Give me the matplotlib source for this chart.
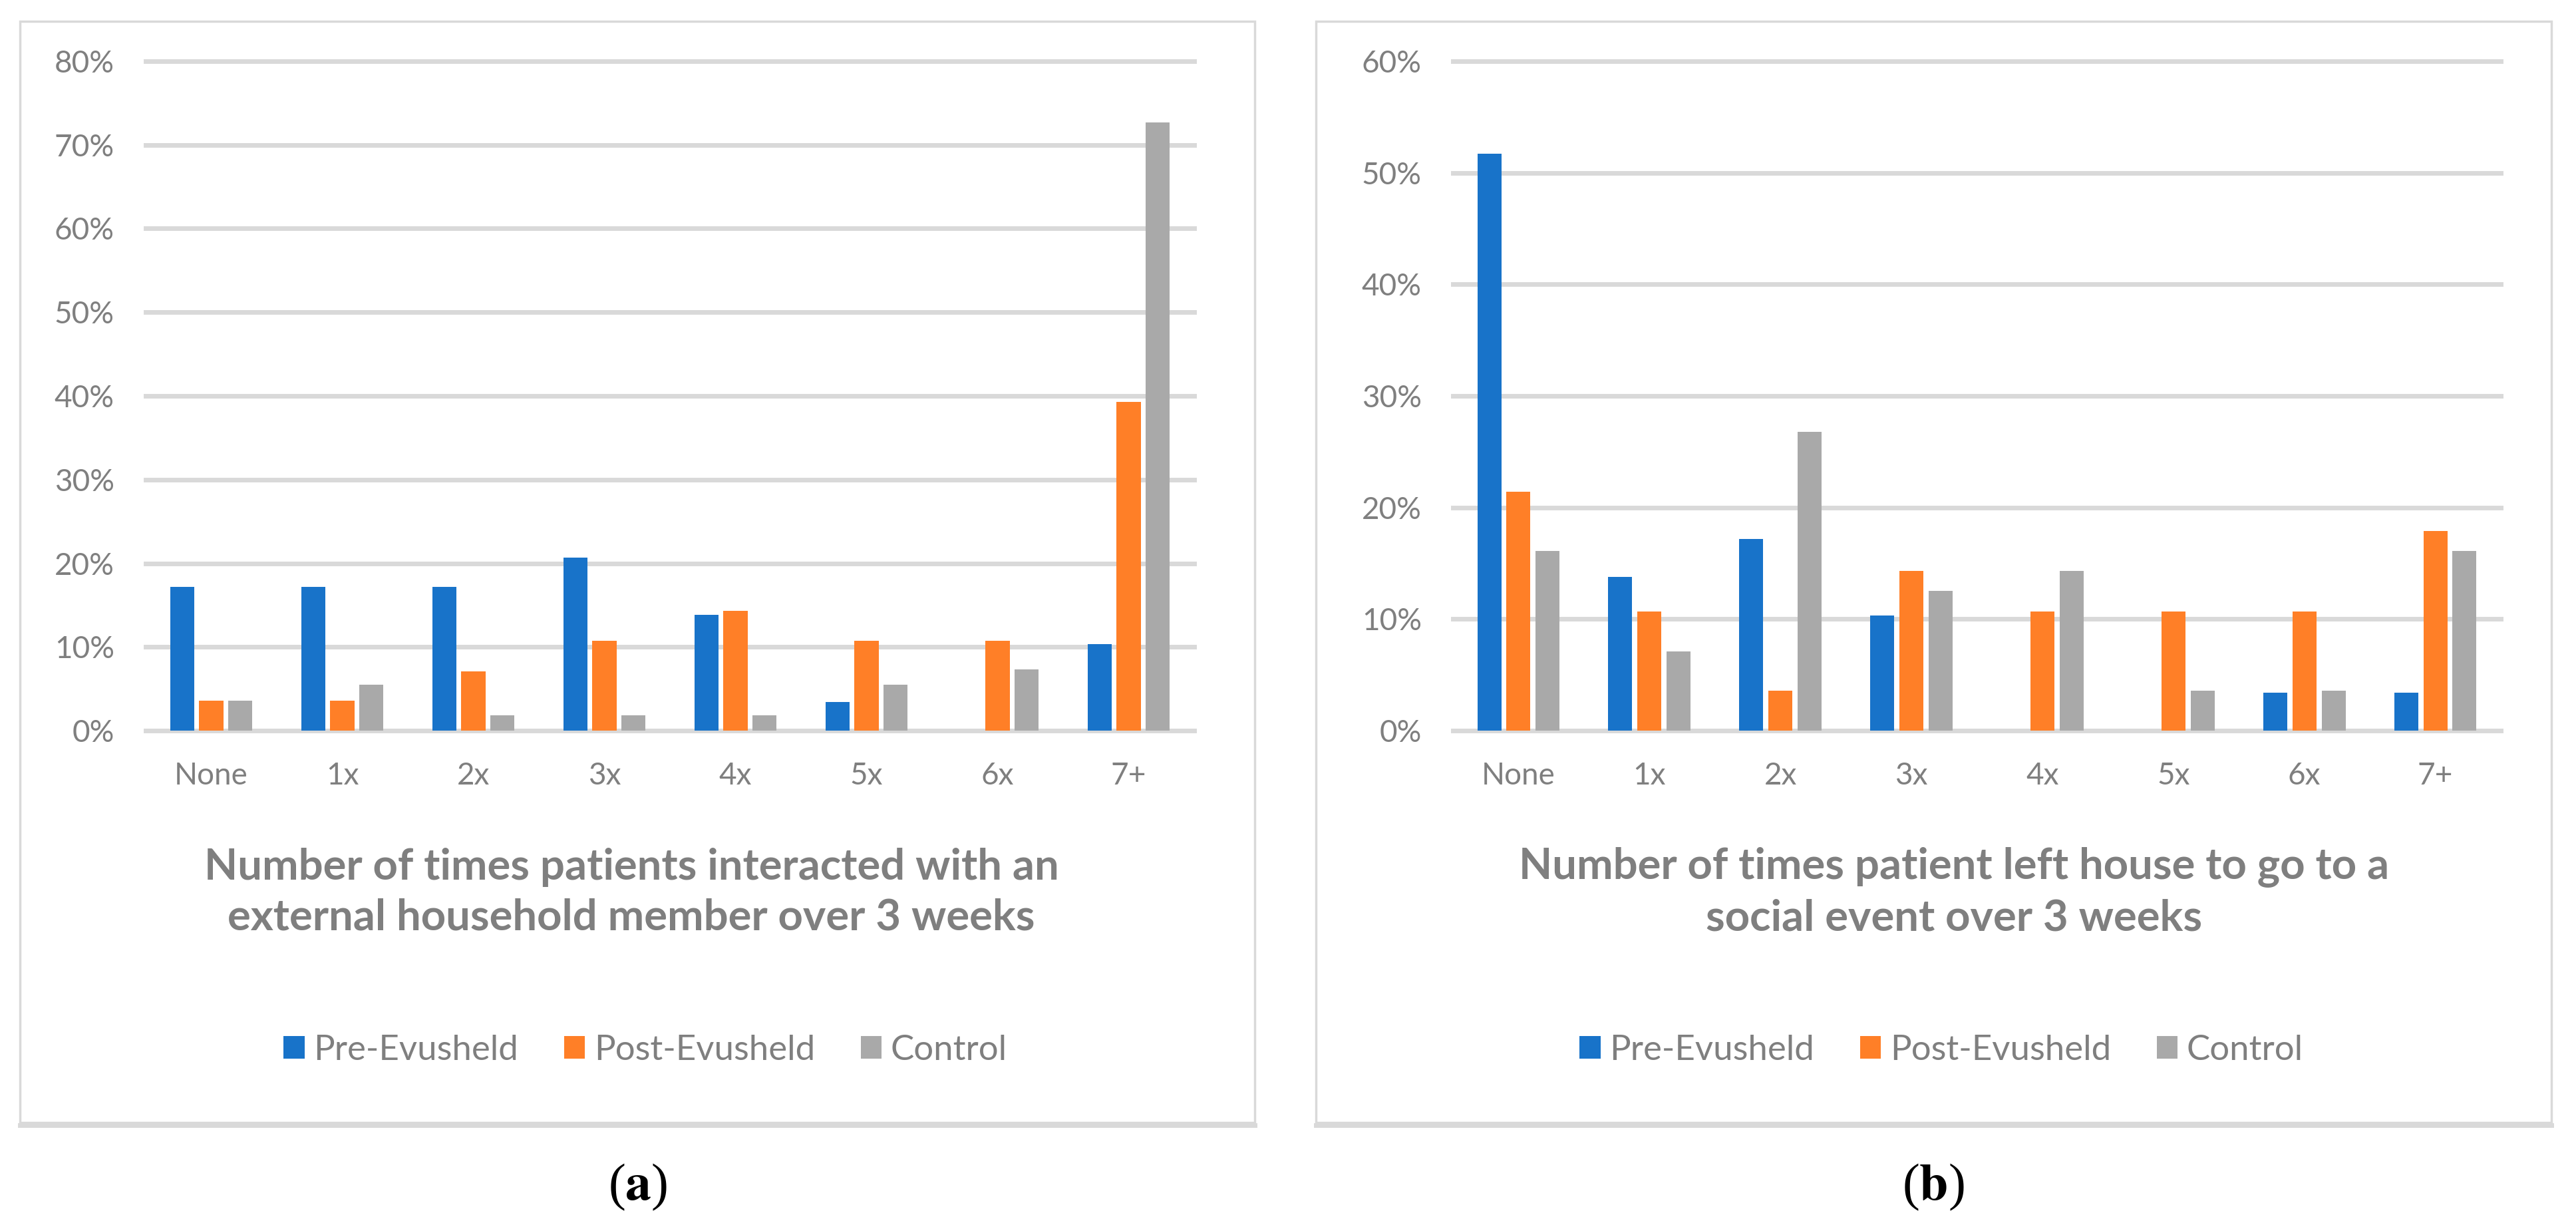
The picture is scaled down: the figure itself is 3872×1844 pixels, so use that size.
import numpy as np
import matplotlib
matplotlib.use('Agg')
from matplotlib import pyplot as plt
from matplotlib.patches import Patch, Rectangle
from matplotlib.lines import Line2D

plt.rcParams['font.family'] = ['Lato', 'DejaVu Sans']
plt.rcParams['mathtext.fontset'] = 'stix'

categories = ['None', '1x', '2x', '3x', '4x', '5x', '6x', '7+']
series_names = ['Pre-Evusheld', 'Post-Evusheld', 'Control']

# panel (a): interactions with an external household member
a_pre = [17.2, 17.2, 17.2, 20.7, 13.8, 3.4, 0.0, 10.3]
a_post = [3.6, 3.6, 7.1, 10.7, 14.3, 10.7, 10.7, 39.3]
a_control = [3.6, 5.5, 1.8, 1.8, 1.8, 5.5, 7.3, 72.7]
a_ticks = [0, 10, 20, 30, 40, 50, 60, 70, 80]
a_title = 'Number of times patients interacted with an\nexternal household member over 3 weeks'

# panel (b): leaving house for a social event
b_pre = [51.7, 13.8, 17.2, 10.3, 0.0, 0.0, 3.4, 3.4]
b_post = [21.4, 10.7, 3.6, 14.3, 10.7, 10.7, 10.7, 17.9]
b_control = [16.1, 7.1, 26.8, 12.5, 14.3, 3.6, 3.6, 16.1]
b_ticks = [0, 10, 20, 30, 40, 50, 60]
b_title = 'Number of times patient left house to go to a\nsocial event over 3 weeks'

colors = ['#1873C9', '#FF7F27', '#A9A9A9']
grid_c = '#D9D9D9'
text_c = '#7F7F7F'

W, H = 3873, 1844
fig = plt.figure(figsize=(W / 100, H / 100), dpi=100)


def px(x0, y0, x1, y1):
    # pixel box (top-left origin) -> figure rect
    return [x0 / W, 1 - y1 / H, (x1 - x0) / W, (y1 - y0) / H]


def panel(rect, box, series, ticks, title, title_x, legend_x, tag, tag_x):
    # outer frame with bottom shadow
    bx0, by0, bx1, by1 = box
    fig.patches.append(Rectangle((bx0 / W, 1 - by1 / H), (bx1 - bx0) / W, (by1 - by0) / H,
                                 transform=fig.transFigure, fill=False,
                                 edgecolor=grid_c, linewidth=2.5))
    fig.add_artist(Line2D([bx0 / W, bx1 / W], [1 - (by1 + 4) / H] * 2,
                          transform=fig.transFigure, color=grid_c, linewidth=5))

    ax = fig.add_axes(rect)
    x = np.arange(len(categories))
    width = 0.183
    step = 0.223
    for i, vals in enumerate(series):
        ax.bar(x + (i - 1) * step, np.array(vals) / 100, width, color=colors[i], zorder=3)
    for t in ticks:
        ax.axhline(t / 100, color=grid_c, linewidth=5, zorder=1, clip_on=False)
    ax.set_xlim(-0.5, len(categories) - 0.5)
    ax.set_ylim(0, ticks[-1] / 100)
    ax.set_yticks([t / 100 for t in ticks])
    ax.set_yticklabels(['%d%%' % t for t in ticks])
    ax.set_xticks(x)
    ax.set_xticklabels(categories)
    ax.tick_params(axis='both', length=0, labelsize=33, labelcolor=text_c)
    ax.tick_params(axis='y', pad=34)
    ax.tick_params(axis='x', pad=34)
    for s in ax.spines.values():
        s.set_visible(False)

    fig.text(title_x / W, 1 - 1341 / H, title, ha='center', va='center',
             fontsize=47, fontweight='bold', color=text_c, linespacing=1.35)

    handles = [Patch(facecolor=c, edgecolor='none') for c in colors]
    fig.legend(handles, series_names, loc='center', bbox_to_anchor=(legend_x / W, 1 - 1578 / H),
               ncol=3, frameon=False, fontsize=38, labelcolor=text_c,
               handlelength=0.6, handleheight=0.6, handletextpad=0.25, columnspacing=1.3)

    fig.text(tag_x / W, 1 - 1784 / H, '(' + r'$\mathbf{%s}$' % tag + ')', ha='center', va='center',
             fontsize=56, family='Liberation Serif', color='black')
    return ax


panel(px(219, 92, 1795, 1098), (30, 32, 1886, 1687), [a_pre, a_post, a_control],
      a_ticks, a_title, 949, 970, 'a', 959)
panel(px(2184, 92, 3759, 1098), (1978, 32, 3835, 1687), [b_pre, b_post, b_control],
      b_ticks, b_title, 2937, 2918, 'b', 2906)

fig.savefig('out.png', dpi=100, facecolor='white')
